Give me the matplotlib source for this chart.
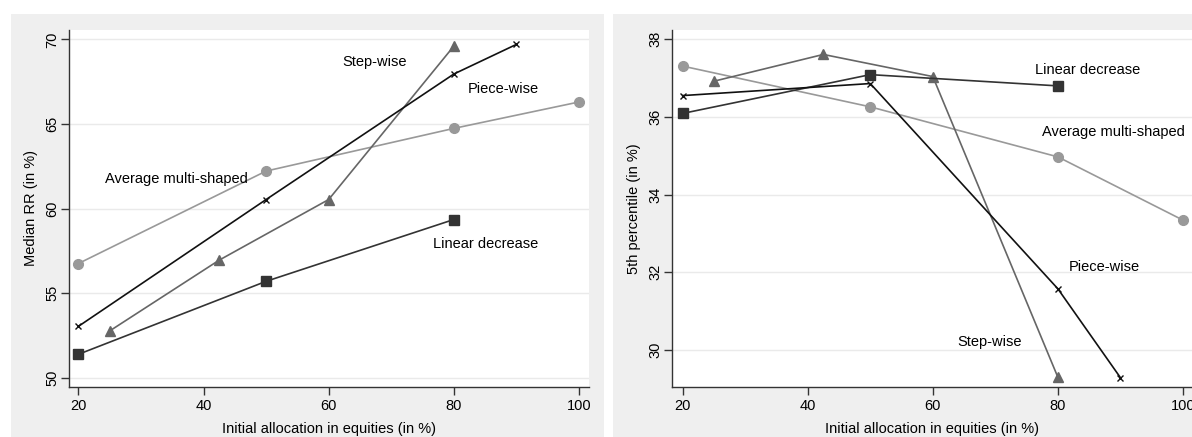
import numpy as np
import matplotlib
matplotlib.use("Agg")
import matplotlib.pyplot as plt
from matplotlib.patches import Rectangle

plt.rcParams['font.family'] = ['Liberation Sans', 'DejaVu Sans']

# x positions (initial allocation in equities, %)
x_avg = [20, 50, 80, 100]
x_piece = [20, 50, 80, 90]
x_step = [25, 42.5, 60, 80]
x_lin = [20, 50, 80]

# left panel: median RR (in %)
med_avg = [56.76, 62.22, 64.74, 66.30]
med_piece = [53.05, 60.54, 67.95, 69.70]
med_step = [52.78, 56.96, 60.54, 69.60]
med_lin = [51.40, 55.71, 59.36]

# right panel: 5th percentile (in %)
p5_avg = [37.31, 36.26, 34.97, 33.34]
p5_piece = [36.55, 36.86, 31.57, 29.28]
p5_step = [36.92, 37.61, 37.04, 29.29]
p5_lin = [36.09, 37.09, 36.80]

xticks = [20, 40, 60, 80, 100]

fig = plt.figure(figsize=(11.92, 4.37), dpi=100)
W, H = 1192.0, 437.0

# grey graph regions behind each plot
for x0, x1 in [(11, 604), (613, 1200)]:
    fig.patches.append(Rectangle((x0 / W, 0), (x1 - x0) / W, 1 - 14 / H,
                                 transform=fig.transFigure, facecolor='#efefef',
                                 edgecolor='none', zorder=-5))

ax1 = fig.add_axes([69 / W, 1 - 387 / H, 520 / W, 357 / H])
ax2 = fig.add_axes([672 / W, 1 - 387 / H, 521 / W, 357 / H])


def draw(ax, avg, piece, step, lin):
    ax.plot(x_avg, avg, color='#999999', lw=1.2, marker='o', ms=7, zorder=3)
    ax.plot(x_step, step, color='#666666', lw=1.2, marker='^', ms=7.5, zorder=3)
    ax.plot(x_lin, lin, color='#333333', lw=1.2, marker='s', ms=6.5, zorder=3)
    ax.plot(x_piece, piece, color='#111111', lw=1.2, marker='x', ms=4, mew=1, zorder=4)
    ax.set_facecolor('white')
    ax.grid(axis='y', color='#eaeaea', lw=1)
    ax.set_axisbelow(True)
    for s in ['top', 'right']:
        ax.spines[s].set_visible(False)
    for s in ['left', 'bottom']:
        ax.spines[s].set_color('#333333')
        ax.spines[s].set_linewidth(1)
    ax.set_xticks(xticks)
    ax.tick_params(direction='out', length=5.5, width=1, colors='#333333', labelsize=10.5,
                   labelcolor='black')
    ax.tick_params(axis='y', pad=1.5)
    ax.set_xlabel('Initial allocation in equities (in %)', fontsize=10.5, labelpad=6)


draw(ax1, med_avg, med_piece, med_step, med_lin)
ax1.set_xlim(18.5, 101.6)
ax1.set_ylim(49.47, 70.55)
ax1.set_yticks([50, 55, 60, 65, 70])
for lab in ax1.get_yticklabels():
    lab.set_rotation(90)
    lab.set_va('center')
ax1.set_ylabel('Median RR (in %)', fontsize=10.5, labelpad=5.5)
ax1.text(67.4, 68.66, 'Step-wise', fontsize=10.5, ha='center', va='center')
ax1.text(87.9, 67.06, 'Piece-wise', fontsize=10.5, ha='center', va='center')
ax1.text(35.7, 61.74, 'Average multi-shaped', fontsize=10.5, ha='center', va='center')
ax1.text(85.0, 57.90, 'Linear decrease', fontsize=10.5, ha='center', va='center')

draw(ax2, p5_avg, p5_piece, p5_step, p5_lin)
ax2.set_xlim(18.3, 101.6)
ax2.set_ylim(29.04, 38.24)
ax2.set_yticks([30, 32, 34, 36, 38])
for lab in ax2.get_yticklabels():
    lab.set_rotation(90)
    lab.set_va('center')
ax2.set_ylabel('5th percentile (in %)', fontsize=10.5, labelpad=5.5)
ax2.text(84.8, 37.21, 'Linear decrease', fontsize=10.5, ha='center', va='center')
ax2.text(88.9, 35.60, 'Average multi-shaped', fontsize=10.5, ha='center', va='center')
ax2.text(87.5, 32.13, 'Piece-wise', fontsize=10.5, ha='center', va='center')
ax2.text(69.1, 30.20, 'Step-wise', fontsize=10.5, ha='center', va='center')

fig.savefig('out.png', dpi=100)
